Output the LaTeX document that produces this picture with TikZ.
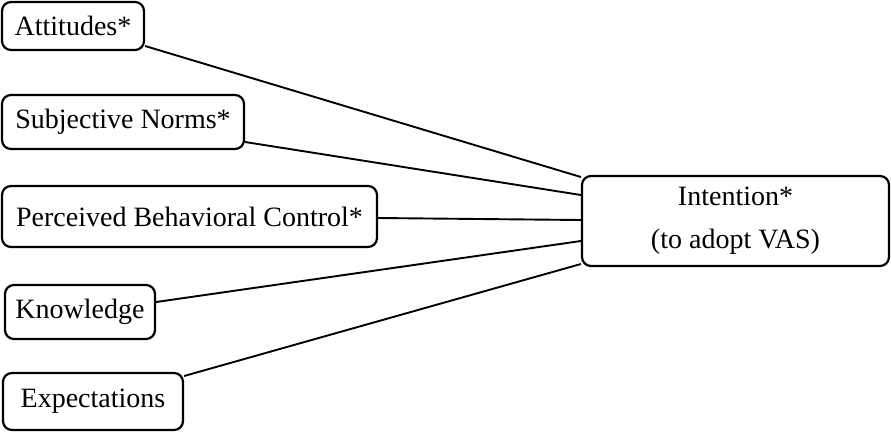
\documentclass[tikz,border=0pt]{standalone}
\usepackage{fontspec}
\setmainfont{Liberation Serif}
\usetikzlibrary{calc}
\begin{document}
\begin{tikzpicture}[x=1pt,y=-1pt,
  box/.style={draw, line width=2.2pt, rounded corners=9pt, inner sep=0pt, align=center,
    font=\fontsize{28}{43}\selectfont},
  link/.style={line width=1.9pt}]
\useasboundingbox (0,0) rectangle (891,432);
\node[box, minimum width=142pt, minimum height=48pt] (att) at (73,26) {Attitudes*};
\node[box, minimum width=242pt, minimum height=54pt] (sn) at (123,122) {Subjective Norms*};
\node[box, minimum width=375pt, minimum height=61pt] (pbc) at (189.5,216.5) {Perceived Behavioral Control*};
\node[box, minimum width=150pt, minimum height=54pt] (kn) at (80,312) {Knowledge};
\node[box, minimum width=180pt, minimum height=57pt] (ex) at (93,401.5) {Expectations};
\node[box, minimum width=307pt, minimum height=90pt] (int) at (735.5,221) {Intention*\\(to adopt VAS)};
\draw[link] ($(att.east)+(0,20)$) -- ($(int.west)+(0,-44)$);
\draw[link] ($(sn.east)+(0,20)$) -- ($(int.west)+(0,-26)$);
\draw[link] ($(pbc.east)+(0,1.5)$) -- ($(int.west)+(0,-1)$);
\draw[link] ($(kn.east)+(0,-10)$) -- ($(int.west)+(0,20)$);
\draw[link] ($(ex.east)+(0,-25.5)$) -- ($(int.west)+(0,43)$);
\end{tikzpicture}
\end{document}
